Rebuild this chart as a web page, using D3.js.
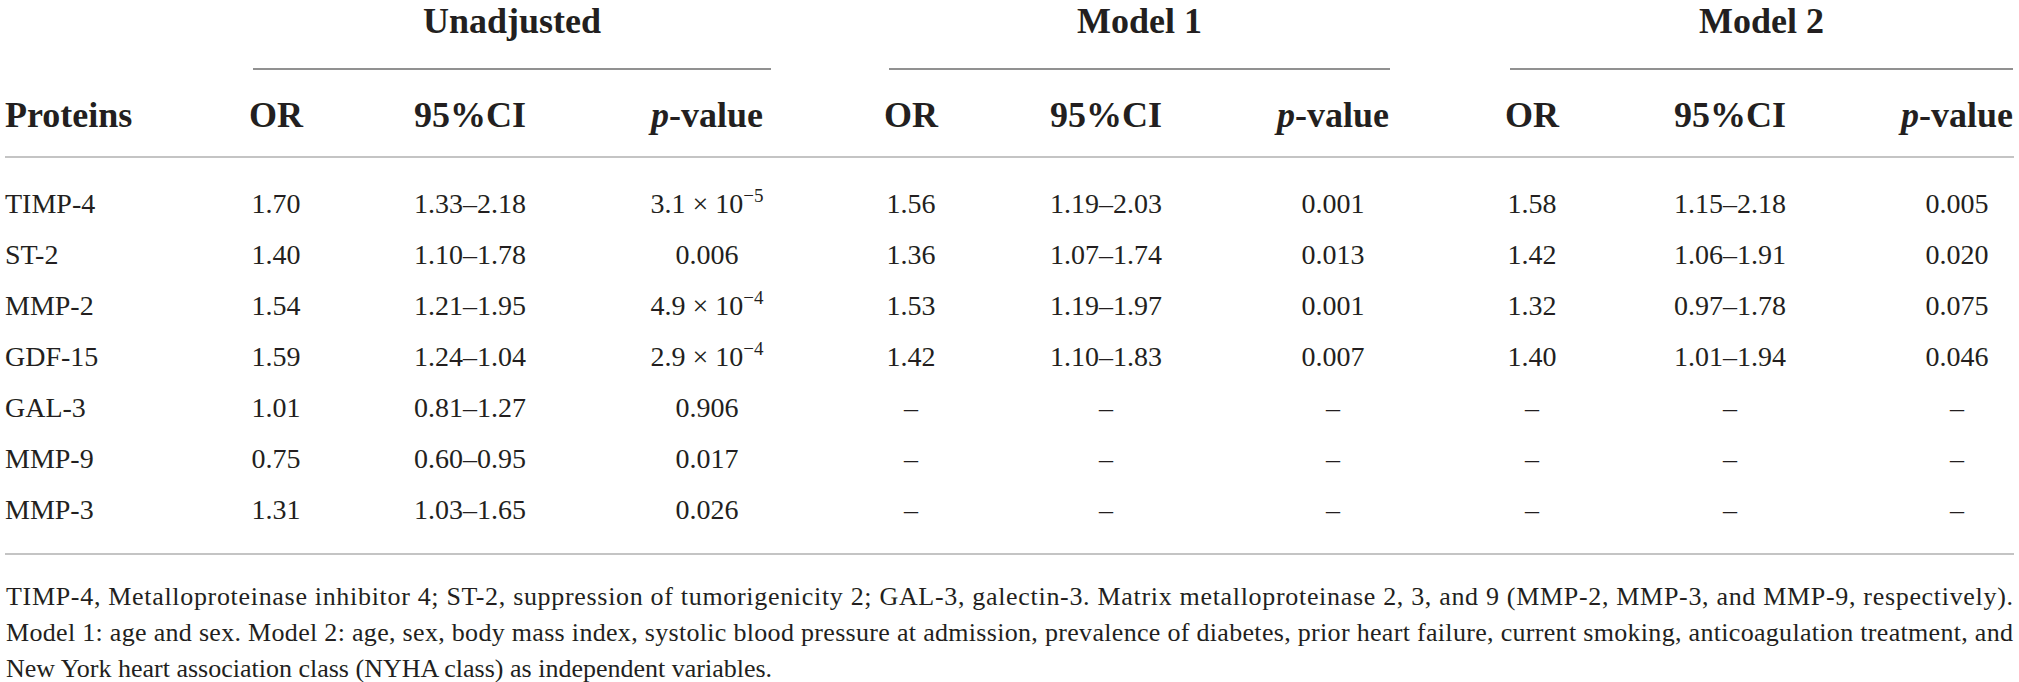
<!DOCTYPE html>
<html lang="en">
<head>
    <meta charset="UTF-8">
    <title>protein odds ratios table</title>
    <script src="https://d3js.org/d3.v7.min.js"></script>
    <style>
        body { margin: 0; background: #fff; }
        text { font-family: "Liberation Serif", "Times New Roman", serif; fill: #231f20; }
    </style>
</head>
<body>
    <svg width="2019" height="682"></svg>
    <script>
        const proteins = ["TIMP-4", "ST-2", "MMP-2", "GDF-15", "GAL-3", "MMP-9", "MMP-3"];

        const unadjOR = [1.70, 1.40, 1.54, 1.59, 1.01, 0.75, 1.31];
        const unadjCI = ["1.33–2.18", "1.10–1.78", "1.21–1.95", "1.24–1.04", "0.81–1.27", "0.60–0.95", "1.03–1.65"];
        const unadjP = ["3.1 × 10^−5", "0.006", "4.9 × 10^−4", "2.9 × 10^−4", "0.906", "0.017", "0.026"];

        const model1OR = [1.56, 1.36, 1.53, 1.42, null, null, null];
        const model1CI = ["1.19–2.03", "1.07–1.74", "1.19–1.97", "1.10–1.83", null, null, null];
        const model1P = ["0.001", "0.013", "0.001", "0.007", null, null, null];

        const model2OR = [1.58, 1.42, 1.32, 1.40, null, null, null];
        const model2CI = ["1.15–2.18", "1.06–1.91", "0.97–1.78", "1.01–1.94", null, null, null];
        const model2P = ["0.005", "0.020", "0.075", "0.046", null, null, null];

        const groups = ["Unadjusted", "Model 1", "Model 2"];
        const columns = ["OR", "95%CI", "p-value"];

        const footnotes = [
            "TIMP-4, Metalloproteinase inhibitor 4; ST-2, suppression of tumorigenicity 2; GAL-3, galectin-3. Matrix metalloproteinase 2, 3, and 9 (MMP-2, MMP-3, and MMP-9, respectively).",
            "Model 1: age and sex. Model 2: age, sex, body mass index, systolic blood pressure at admission, prevalence of diabetes, prior heart failure, current smoking, anticoagulation treatment, and",
            "New York heart association class (NYHA class) as independent variables."
        ];

        const svg = d3.select('svg');
        const width = +svg.attr('width');
        const fmt = d3.format('.2f');
        const dash = '–';

        // column centres, one per group x column
        const colKeys = groups.flatMap(g => columns.map(c => g + '|' + c));
        const xCol = d3.scaleOrdinal()
            .domain(colKeys)
            .range([276, 470, 707, 911, 1106, 1333, 1532, 1730, 1957]);

        // spans of the grouping lines
        const xGroup = d3.scaleOrdinal()
            .domain(groups)
            .range([[253, 771], [889, 1390], [1510, 2013]]);

        const yRow = d3.scalePoint()
            .domain(proteins)
            .range([213, 519]);

        // group headers + lines
        groups.forEach(g => {
            const [x0, x1] = xGroup(g);
            svg.append('text')
                .attr('x', (x0 + x1) / 2)
                .attr('y', 33)
                .attr('text-anchor', 'middle')
                .attr('font-weight', 'bold')
                .attr('font-size', 36)
                .text(g);
            svg.append('line')
                .attr('x1', x0).attr('x2', x1)
                .attr('y1', 69).attr('y2', 69)
                .attr('stroke', '#6d6d6d')
                .attr('stroke-width', 1.6);
        });

        // column headers
        svg.append('text')
            .attr('x', 5).attr('y', 127)
            .attr('font-weight', 'bold').attr('font-size', 36)
            .text('Proteins');

        colKeys.forEach(k => {
            const c = k.split('|')[1];
            const t = svg.append('text')
                .attr('x', xCol(k)).attr('y', 127)
                .attr('text-anchor', 'middle')
                .attr('font-weight', 'bold').attr('font-size', 36);
            if (c === 'p-value') {
                t.append('tspan').attr('font-style', 'italic').text('p');
                t.append('tspan').text('-value');
            } else {
                t.text(c);
            }
        });

        // rules
        [157, 554].forEach(y => {
            svg.append('line')
                .attr('x1', 5).attr('x2', width - 5)
                .attr('y1', y).attr('y2', y)
                .attr('stroke', '#c4c4c4')
                .attr('stroke-width', 2);
        });

        // body cells
        const series = [
            [unadjOR, unadjCI, unadjP],
            [model1OR, model1CI, model1P],
            [model2OR, model2CI, model2P]
        ];

        function cell(key, protein, value, isNum) {
            const t = svg.append('text')
                .attr('x', xCol(key))
                .attr('y', yRow(protein))
                .attr('text-anchor', 'middle')
                .attr('font-size', 28);
            if (value === null) { t.text(dash); return; }
            if (isNum) { t.text(fmt(value)); return; }
            const m = value.match(/^(.*) × 10\^(.*)$/);
            if (m) {
                t.append('tspan').text(m[1] + ' × 10');
                t.append('tspan').attr('dy', -11).attr('font-size', 19).text(m[2]);
            } else {
                t.text(value);
            }
        }

        proteins.forEach((p, i) => {
            svg.append('text')
                .attr('x', 5).attr('y', yRow(p))
                .attr('font-size', 28)
                .text(p);
            groups.forEach((g, gi) => {
                const [or, ci, pv] = series[gi];
                cell(g + '|OR', p, or[i], true);
                cell(g + '|95%CI', p, ci[i], false);
                cell(g + '|p-value', p, pv[i], false);
            });
        });

        // footnote
        const yFoot = d3.scalePoint()
            .domain(d3.range(footnotes.length))
            .range([605, 677]);

        footnotes.forEach((f, i) => {
            const t = svg.append('text')
                .attr('x', 6).attr('y', yFoot(i))
                .attr('font-size', 26)
                .text(f);
            if (i < footnotes.length - 1) {
                t.attr('textLength', width - 12).attr('lengthAdjust', 'spacing');
            }
        });
    </script>
</body>
</html>
